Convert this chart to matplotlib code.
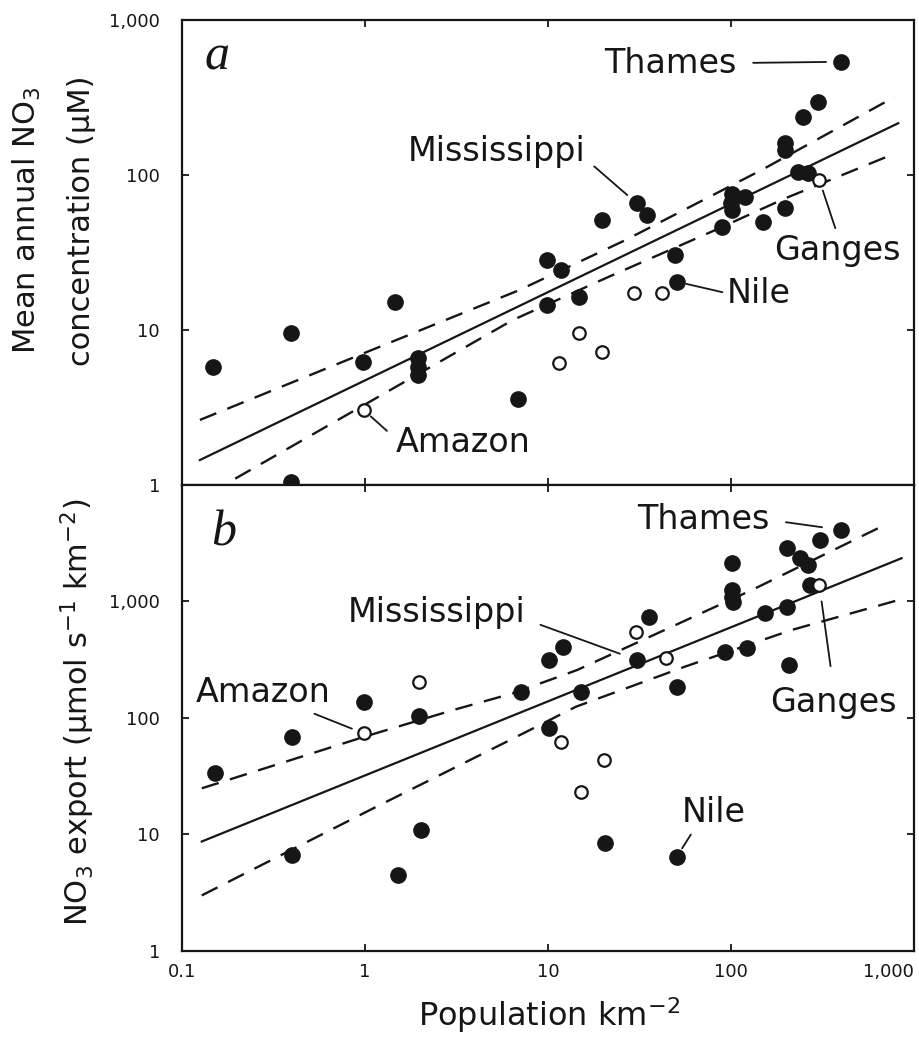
import matplotlib
matplotlib.use('Agg')
import matplotlib.pyplot as plt
from matplotlib.ticker import FixedLocator, FixedFormatter, NullLocator

# labelled rivers (same population in both panels)
rivers = ['Thames', 'Mississippi', 'Ganges', 'Nile', 'Amazon']
river_open = [False, False, True, False, True]
river_pop = [400, 30.5, 303, 50.5, 0.98]
river_conc = [538, 65.7, 93, 20.5, 3.05]
river_export = [4110, 315, 1386, 6.45, 73.8]

# panel a - other rivers, mean annual NO3 (uM)
pop_a_filled = [0.148, 0.391, 1.45, 0.97, 1.95, 1.95, 1.95, 0.391, 6.8, 9.9, 11.7, 9.8,
                14.8, 49.6, 19.8, 34.8, 101, 119, 101, 89, 100, 150, 197, 197, 197,
                233, 264, 246, 297]
conc_a_filled = [5.8, 9.5, 15.2, 6.2, 6.6, 5.8, 5.1, 1.05, 3.6, 28.3, 24.4, 14.5,
                 16.4, 30.5, 51, 55.2, 76, 72.4, 59.5, 46.4, 66, 50, 61, 160, 145,
                 105, 103, 238, 297]
pop_a_open = [29.4, 42, 14.8, 19.8, 11.5]
conc_a_open = [17.3, 17.3, 9.5, 7.2, 6.1]

# panel b - other rivers, NO3 export
pop_b_filled = [0.99, 1.98, 0.151, 0.397, 0.397, 1.51, 2.02, 7.1, 10.1, 12.0, 10.1,
                15.1, 35.5, 50.7, 101, 101, 101, 102, 93, 122, 153, 201, 206, 270,
                201, 238, 264, 306, 20.5]
export_b_filled = [138, 103, 33.5, 69, 6.67, 4.49, 10.9, 168, 315, 409, 81.5,
                   168, 740, 186, 2130, 1255, 1100, 996, 371, 396, 790, 902, 285, 1386,
                   2863, 2350, 2057, 3373, 8.4]
pop_b_open = [1.98, 30, 43.8, 11.7, 20.2, 15.1]
export_b_open = [205, 550, 325, 62.6, 43.6, 23.3]

# regression lines and bands
fit_a_x = [0.125, 818]
fit_a_y = [1.45, 216]
upper_a_x = [0.125, 0.93, 6.95, 26.5, 147, 785]
upper_a_y = [2.63, 6.9, 18.1, 38.1, 108, 320]
lower_a_x = [0.195, 6.4, 21.5, 82, 197, 752]
lower_a_y = [1.1, 11.6, 22.1, 44.2, 70.7, 135]

fit_b_x = [0.128, 853]
fit_b_y = [8.7, 2350]
upper_b_x = [0.128, 0.99, 3.03, 6.44, 14.4, 47.5, 130, 721]
upper_b_y = [24.9, 69, 117, 163, 258, 608, 1256, 4690]
lower_b_x = [0.128, 1.11, 5.94, 14.2, 56, 214, 889]
lower_b_y = [3.0, 16.8, 62.6, 125, 276, 569, 1065]

x_ticks = [0.1, 1, 10, 100, 1000]
x_tick_labels = ['0.1', '1', '10', '100', '1,000']
y_ticks = [1, 10, 100, 1000]
y_tick_labels = ['1', '10', '100', '1,000']

ink = '#161616'

fig = plt.figure(figsize=(9.2, 10.44), dpi=100)
ax_a = fig.add_axes([0.198, 0.5354, 0.7957, 0.4454])
ax_b = fig.add_axes([0.198, 0.0891, 0.7957, 0.4464])


def style_axis(ax, ytop, show_x):
    ax.set_xscale('log')
    ax.set_yscale('log')
    ax.set_xlim(0.1, 1000)
    ax.set_ylim(1, ytop)
    ax.xaxis.set_major_locator(FixedLocator(x_ticks))
    ax.xaxis.set_major_formatter(FixedFormatter(x_tick_labels))
    ax.yaxis.set_major_locator(FixedLocator(y_ticks))
    ax.yaxis.set_major_formatter(FixedFormatter(y_tick_labels))
    ax.xaxis.set_minor_locator(NullLocator())
    ax.yaxis.set_minor_locator(NullLocator())
    ax.tick_params(direction='in', length=5, width=1.3, top=True, right=True,
                   labelsize=13, colors=ink)
    ax.tick_params(axis='y', pad=16)
    ax.tick_params(axis='x', pad=9, labelbottom=show_x)
    for s in ax.spines.values():
        s.set_linewidth(1.6)
        s.set_color(ink)
    if show_x:
        ax.get_xticklabels()[-1].set_horizontalalignment('right')


def draw_points(ax, xf, yf, xo, yo, river_y):
    ax.plot(xf, yf, 'o', ms=11, color=ink, ls='none', zorder=4)
    ax.plot(xo, yo, 'o', ms=9, mfc='white', mec=ink, mew=1.6, ls='none', zorder=5)
    for x, y, op in zip(river_pop, river_y, river_open):
        if op:
            ax.plot(x, y, 'o', ms=9, mfc='white', mec=ink, mew=1.6, zorder=5)
        else:
            ax.plot(x, y, 'o', ms=11, color=ink, zorder=4)


def draw_fit(ax, fx, fy, ux, uy, lx, ly):
    ax.plot(fx, fy, color=ink, lw=1.6, zorder=3)
    ax.plot(ux, uy, color=ink, lw=1.7, ls=(0, (7.5, 5)), zorder=3)
    ax.plot(lx, ly, color=ink, lw=1.7, ls=(0, (7.5, 5)), zorder=3)


def label(ax, name, xy, xytext, relpos, sa, sb):
    ax.annotate(name, xy=xy, xytext=xytext, fontsize=24, ha='center', va='center',
                color=ink,
                arrowprops=dict(arrowstyle='-', color=ink, lw=1.3, relpos=relpos,
                                shrinkA=sa, shrinkB=sb))


# panel a
style_axis(ax_a, 1000, False)
draw_fit(ax_a, fit_a_x, fit_a_y, upper_a_x, upper_a_y, lower_a_x, lower_a_y)
draw_points(ax_a, pop_a_filled, conc_a_filled, pop_a_open, conc_a_open, river_conc)
pts_a = dict(zip(rivers, zip(river_pop, river_conc)))
label(ax_a, 'Thames', pts_a['Thames'], (46.5, 528), (1, 0.5), 10, 11)
label(ax_a, 'Mississippi', pts_a['Mississippi'], (5.2, 141), (1, 0.3), 6, 9)
label(ax_a, 'Ganges', pts_a['Ganges'], (379, 32.8), (0.5, 1), 2, 8)
label(ax_a, 'Nile', pts_a['Nile'], (141, 17.3), (0, 0.5), 1, 7)
label(ax_a, 'Amazon', pts_a['Amazon'], (3.44, 1.89), (0, 0.6), 6, 7)
ax_a.text(0.048, 0.92, 'a', transform=ax_a.transAxes, fontsize=36,
          family='Liberation Serif', style='italic', ha='center', va='center', color=ink)

# panel b
style_axis(ax_b, 10000, True)
draw_fit(ax_b, fit_b_x, fit_b_y, upper_b_x, upper_b_y, lower_b_x, lower_b_y)
draw_points(ax_b, pop_b_filled, export_b_filled, pop_b_open, export_b_open, river_export)
pts_b = dict(zip(rivers, zip(river_pop, river_export)))
label(ax_b, 'Thames', pts_b['Thames'], (70.3, 5010), (1, 0.5), 10, 14)
label(ax_b, 'Mississippi', pts_b['Mississippi'], (2.47, 797), (1, 0.3), 9, 13)
label(ax_b, 'Amazon', pts_b['Amazon'], (0.277, 164), (0.8, 0), 3, 9)
label(ax_b, 'Ganges', pts_b['Ganges'], (361, 137), (0.5, 1), 12, 12)
label(ax_b, 'Nile', pts_b['Nile'], (79.8, 15.3), (0.2, 0), 2, 7)
ax_b.text(0.056, 0.897, 'b', transform=ax_b.transAxes, fontsize=36,
          family='Liberation Serif', style='italic', ha='center', va='center', color=ink)

# axis titles
fig.text(0.029, 0.789, 'Mean annual NO$_3$', rotation=90, ha='center', va='center',
         fontsize=22, color=ink)
fig.text(0.089, 0.789, 'concentration (μM)', rotation=90, ha='center', va='center',
         fontsize=22, color=ink)
fig.text(0.085, 0.318, 'NO$_3$ export (μmol s$^{-1}$ km$^{-2}$)', rotation=90,
         ha='center', va='center', fontsize=22, color=ink)
fig.text(0.597, 0.028, 'Population km$^{-2}$', ha='center', va='center',
         fontsize=23, color=ink)

fig.savefig('out.png', dpi=100, facecolor='white')
